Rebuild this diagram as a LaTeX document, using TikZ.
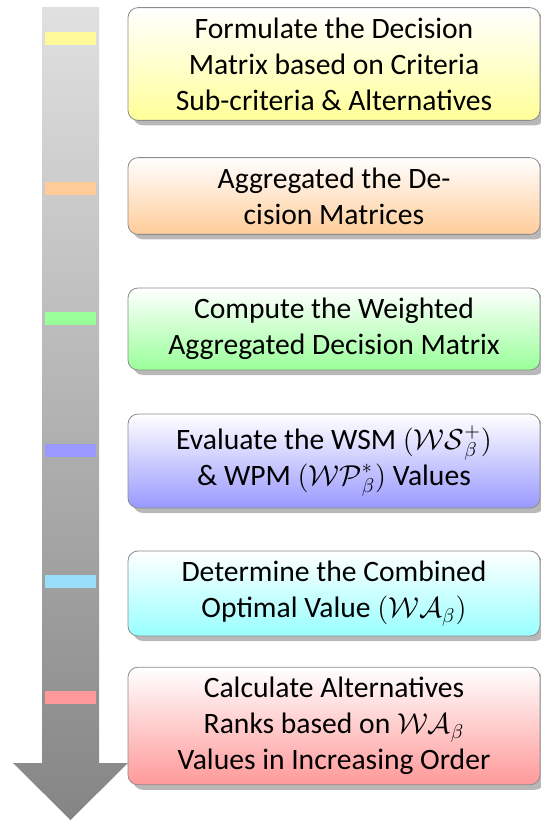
\documentclass[tikz,border=0pt]{standalone}
\usepackage{fontspec}
\setmainfont{Carlito}
\usetikzlibrary{shadows}

\begin{document}
\begin{tikzpicture}[x=0.5pt, y=-0.5pt,
  stepbox/.style={draw=black!45, rounded corners=5pt, minimum width=206pt, align=center, inner ysep=5pt, top color=white, drop shadow={shadow xshift=2.5pt, shadow yshift=-2.5pt, fill=black!28, opacity=1}, font=\fontsize{14.8pt}{18pt}\selectfont},
  tick/.style={minimum width=25.5pt, minimum height=6.5pt, inner sep=0pt}]
  \useasboundingbox (0,0) rectangle (541,821);
  \shade[top color=black!12, bottom color=black!48] (42,7) -- (99,7) -- (99,763) -- (128,763) -- (70.5,820) -- (13,763) -- (42,763) -- cycle;
  \node[tick, fill=yellow!40] (t1) at (70.5,38) {};
  \node[tick, fill=orange!40] (t2) at (70.5,188.5) {};
  \node[tick, fill=green!40] (t3) at (70.5,318.5) {};
  \node[tick, fill=blue!40] (t4) at (70.5,450) {};
  \node[tick, fill=cyan!40] (t5) at (70.5,581.5) {};
  \node[tick, fill=red!40] (t6) at (70.5,697.5) {};
  \node[stepbox, bottom color=yellow!40] (s1) at (334,64) {Formulate the Decision\\Matrix based on Criteria\\Sub-criteria \& Alternatives};
  \node[stepbox, bottom color=orange!40] (s2) at (334,196) {Aggregated the De-\\cision Matrices};
  \node[stepbox, bottom color=green!40, minimum height=41pt] (s3) at (334,329) {Compute the Weighted\\Aggregated Decision Matrix};
  \node[stepbox, bottom color=blue!40, minimum height=47pt] (s4) at (334,461) {Evaluate the WSM $(\mathcal{WS}_\beta^+)$\\\& WPM $(\mathcal{WP}_\beta^*)$ Values};
  \node[stepbox, bottom color=cyan!40, minimum height=42.5pt] (s5) at (334,593.5) {Determine the Combined\\Optimal Value $(\mathcal{WA}_\beta)$};
  \node[stepbox, bottom color=red!40] (s6) at (334,726) {Calculate Alternatives\\Ranks based on $\mathcal{WA}_\beta$\\Values in Increasing Order};
\end{tikzpicture}
\end{document}
